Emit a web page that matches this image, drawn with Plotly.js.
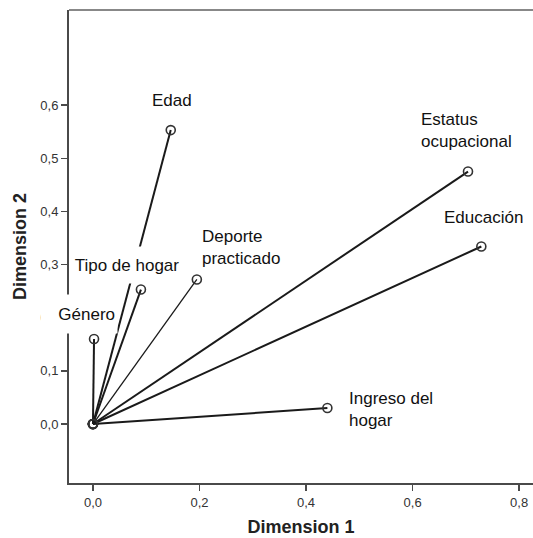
<!DOCTYPE html>
<html>
<head>
<meta charset="utf-8">
<script src="https://cdn.plot.ly/plotly-3.0.1.min.js"></script>
<style>html,body{margin:0;padding:0;background:#fff;}#chart{width:533px;height:538px;}</style>
</head>
<body>
<div id="chart"></div>
<script>
// Data (component loadings)
var variables = ["Edad", "Estatus ocupacional", "Educación", "Deporte practicado", "Tipo de hogar", "Género", "Ingreso del hogar"];
var labelTexts = ["Edad", "Estatus<br>ocupacional", "Educación", "Deporte<br>practicado", "Tipo de hogar", "Género", "Ingreso del<br>hogar"];
var dim1 = [0.146, 0.704, 0.729, 0.195, 0.090, 0.002, 0.440];
var dim2 = [0.553, 0.475, 0.334, 0.272, 0.253, 0.160, 0.030];
var xTicks = [0, 0.2, 0.4, 0.6, 0.8];
var yTicks = [0, 0.1, 0.2, 0.3, 0.4, 0.5, 0.6];

// label placement (pixels relative to the point) and line styles
var labelStyle = [
  {xs: 1, ys: 30, xa: "center", al: "center", pad: 2},
  {xs: -50, ys: 41, xa: "left", al: "left", pad: 2},
  {xs: 2, ys: 29, xa: "center", al: "center", pad: 2},
  {xs: 2, ys: 32, xa: "left", al: "left", pad: 2},
  {xs: -14, ys: 25, xa: "center", al: "center", pad: 2, w: 106, h: 32},
  {xs: -15, ys: 25, xa: "center", al: "right", pad: 2, w: 72, h: 34},
  {xs: 19, ys: -1, xa: "left", al: "left", pad: 2}
];
var lineWidths = [2, 2, 2, 1.3, 2, 2, 2];
var labelFont = {family: "Liberation Sans, Arial, sans-serif", size: 17, color: "#111"};

var traces = variables.map(function (v, i) {
  return {
    type: "scatter",
    mode: "lines+markers",
    name: v,
    x: [0, dim1[i]],
    y: [0, dim2[i]],
    line: {color: "#1a1a1a", width: lineWidths[i]},
    marker: {symbol: "circle-open", size: 9, color: "#333", line: {width: 1.6, color: "#333"}},
    hoverinfo: "skip",
    cliponaxis: false
  };
});

var annotations = variables.map(function (v, i) {
  var s = labelStyle[i];
  var a = {
    x: dim1[i], y: dim2[i], xref: "x", yref: "y",
    text: labelTexts[i], showarrow: false,
    xanchor: s.xa, yanchor: "middle", align: s.al,
    xshift: s.xs, yshift: s.ys,
    bgcolor: "#ffffff", borderpad: s.pad,
    font: labelFont
  };
  if (s.w) { a.width = s.w; a.height = s.h; }
  return a;
});

var axisFont = {family: "Liberation Sans, Arial, sans-serif", size: 13, color: "#333"};
var titleFont = {family: "Liberation Sans, Arial, sans-serif", size: 18, color: "#222"};
var layout = {
  width: 533, height: 538,
  margin: {l: 69, r: 0, t: 10, b: 55},
  paper_bgcolor: "#fff", plot_bgcolor: "#fff",
  separators: ",.",
  showlegend: false,
  font: {family: "Liberation Sans, Arial, sans-serif"},
  xaxis: {
    range: [-0.045, 0.826], tickvals: xTicks, tickformat: ".1f",
    showgrid: false, zeroline: false, showline: true, linecolor: "#4a4a4a", linewidth: 2,
    ticks: "outside", ticklen: 6, tickwidth: 1.5, tickcolor: "#4a4a4a",
    tickfont: axisFont,
    title: {text: "<b>Dimension 1</b>", font: titleFont, standoff: 12}
  },
  yaxis: {
    range: [-0.111, 0.779], tickvals: yTicks, tickformat: ".1f",
    showgrid: false, zeroline: false, showline: true, linecolor: "#4a4a4a", linewidth: 2,
    ticks: "outside", ticklen: 6, tickwidth: 1.5, tickcolor: "#4a4a4a",
    tickfont: axisFont,
    title: {text: "<b>Dimension 2</b>", font: titleFont, standoff: 9}
  },
  shapes: [{type: "line", xref: "paper", yref: "paper", x0: 0, x1: 1, y0: 1, y1: 1, line: {color: "#888", width: 2}}],
  annotations: annotations
};

Plotly.newPlot("chart", traces, layout, {staticPlot: true, displayModeBar: false});
</script>
</body>
</html>
